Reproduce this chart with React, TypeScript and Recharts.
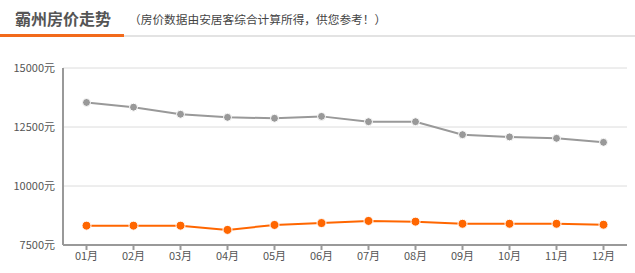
import { LineChart, Line, XAxis, YAxis, CartesianGrid } from 'recharts';

const months = ['01月', '02月', '03月', '04月', '05月', '06月', '07月', '08月', '09月', '10月', '11月', '12月'];
const cityPrice = [13540, 13340, 13040, 12910, 12870, 12950, 12725, 12725, 12175, 12080, 12020, 11850];
const localPrice = [8320, 8320, 8320, 8140, 8350, 8430, 8520, 8490, 8400, 8400, 8400, 8360];
const yTicks = [7500, 10000, 12500, 15000];

const data = months.map((m, i) => ({ month: m, city: cityPrice[i], local: localPrice[i] }));

const font = '"Noto Sans CJK SC", "Noto Sans", sans-serif';

export default function App() {
  return (
    <div style={{ position: 'absolute', left: 0, top: 0, width: 635, height: 273, background: '#fff', fontFamily: font }}>
      {/* 标题栏 */}
      <div style={{ position: 'absolute', left: 15, top: 6, fontSize: 16, fontWeight: 'bold', color: '#555' }}>霸州房价走势</div>
      <div style={{ position: 'absolute', left: 129, top: 10, fontSize: 11.7, color: '#444' }}>（房价数据由安居客综合计算所得，供您参考！）</div>
      <div style={{ position: 'absolute', left: 0, top: 35, width: 635, height: 2, background: '#e3e3e3' }} />
      <div style={{ position: 'absolute', left: 0, top: 34, width: 124, height: 3, background: '#f26a1b' }} />

      <div style={{ position: 'absolute', left: 0, top: 0 }}>
        <LineChart width={635} height={273} data={data} margin={{ top: 68, right: 8, bottom: 8, left: 8 }}>
          <CartesianGrid vertical={false} stroke="#dcdcdc" />
          <XAxis
            dataKey="month"
            padding={{ left: 23.5, right: 23.5 }}
            height={20}
            stroke="#999"
            strokeWidth={2}
            tickSize={5}
            tick={{ fill: '#555', fontSize: 11, fontFamily: font }}
          />
          <YAxis
            domain={[7500, 15000]}
            ticks={yTicks}
            width={55}
            stroke="#999"
            strokeWidth={2}
            tickLine={false}
            tickFormatter={(v: number) => `${v}元`}
            tick={{ fill: '#555', fontSize: 11, fontFamily: font }}
          />
          <Line
            dataKey="city"
            stroke="#999"
            strokeWidth={2}
            dot={{ r: 4, fill: '#999', stroke: '#fff', strokeWidth: 1 }}
            isAnimationActive={false}
          />
          <Line
            dataKey="local"
            stroke="#ff6600"
            strokeWidth={2}
            dot={{ r: 4.5, fill: '#ff6600', stroke: '#fff', strokeWidth: 1 }}
            isAnimationActive={false}
          />
        </LineChart>
      </div>
    </div>
  );
}
